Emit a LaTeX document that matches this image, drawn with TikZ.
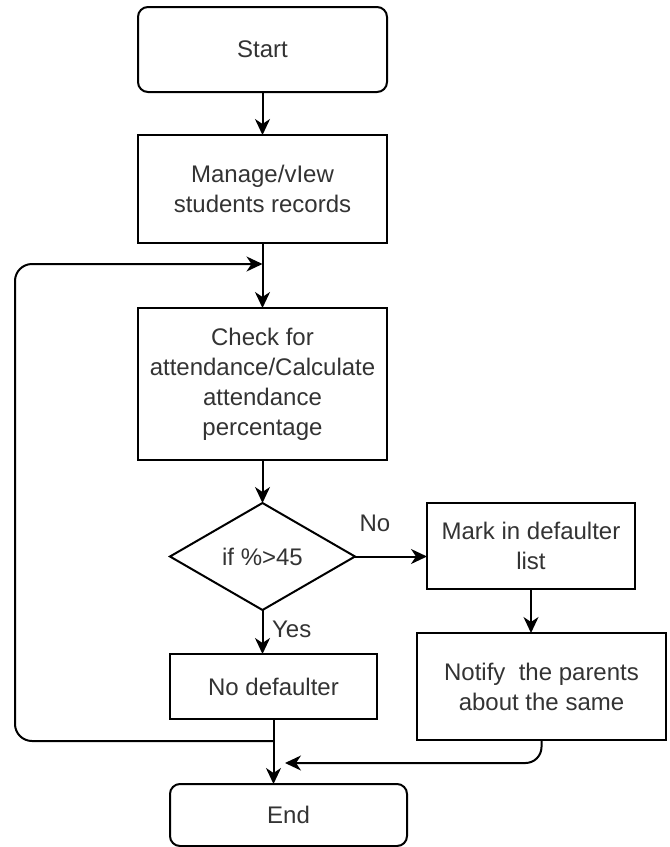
\documentclass[tikz,border=0pt]{standalone}
\usepackage{fontspec}
\setmainfont{Liberation Sans}
\usetikzlibrary{calc,positioning,arrows.meta,shapes.geometric}
\tikzset{box/.style={rectangle, draw=black, fill=white, line width=1pt,
                     inner sep=2pt, outer sep=0pt, align=center,
                     font=\fontsize{12}{15}\selectfont, text=black!80}}
\tikzset{term/.style={box, rounded corners=5pt}}
\tikzset{arr/.style={-{Stealth[length=8pt, width=7.5pt, inset=2.5pt]}, line width=1pt}}

\begin{document}
\begin{tikzpicture}[x=0.5pt, y=-0.5pt,
  decision/.style={diamond, draw=black, fill=white, line width=1pt,
                   inner sep=0pt, outer sep=0pt, aspect=1.7, minimum width=92.5pt,
                   minimum height=53.5pt, font=\fontsize{12}{15}\selectfont,
                   text=black!80},
  lbl/.style={font=\fontsize{12}{15}\selectfont, text=black!80},
]
  \useasboundingbox (0,0) rectangle (670,847);

  % ---- main column ----
  \node[term, minimum width=124.5pt, minimum height=42.5pt] (start) at (262.5,49.5) {Start};
  \node[box, below=21.5pt of start, minimum width=124.5pt, minimum height=54pt] (manage)
      {Manage/vIew\\ students records};
  \node[box, below=32.5pt of manage, minimum width=124.5pt, minimum height=76pt] (check)
      {Check for\\ attendance/Calculate\\ attendance\\ percentage};
  \node[decision, below=21.5pt of check] (cond) {if \%>45};
  \node[box, below=22pt of cond, xshift=5.5pt, minimum width=103.5pt, minimum height=32.5pt] (nodef)
      {No defaulter};
  \node[term, below=32.5pt of nodef, xshift=7.5pt, minimum width=118.5pt, minimum height=31pt] (end)
      {End};

  % ---- defaulter branch ----
  \node[box, right=36pt of cond, yshift=5.25pt, minimum width=104pt, minimum height=43pt] (mark)
      {Mark in defaulter\\ list};
  \node[box, below=22pt of mark, xshift=5.25pt, minimum width=124.5pt, minimum height=53.5pt] (notify)
      {Notify~ the parents\\ about the same};

  % ---- helper points ----
  \coordinate (loopend) at ($(manage.south)+(0,21)$);
  \coordinate (loopin) at ($(nodef.south)+(0,22)$);
  \coordinate (margin) at (15,0);
  \coordinate (retin) at ($(nodef.south |- notify.south)+(11.5,23)$);

  % ---- arrows ----
  \draw[arr] (start) -- (manage);
  \draw[arr] (manage) -- (check);
  \draw[arr] (check) -- (cond);
  \draw[arr] (cond.east) -- (cond.east -| mark.west);
  \draw[arr] (cond.south) -- (cond.south |- nodef.north)
    node[lbl, pos=0.45, right=1pt]{Yes};
  \draw[arr] (mark) -- (mark.south |- notify.north);
  \draw[arr] (nodef.south) -- (nodef.south |- end.north);
  \node[lbl] (nolbl) at (375,523) {No};

  % ---- loop back and return ----
  \draw[arr, rounded corners=8.5pt]
    (loopin) -- (loopin -| margin) |- (loopend);
  \draw[arr, rounded corners=8pt]
    (notify.south) |- (retin);
\end{tikzpicture}
\end{document}
